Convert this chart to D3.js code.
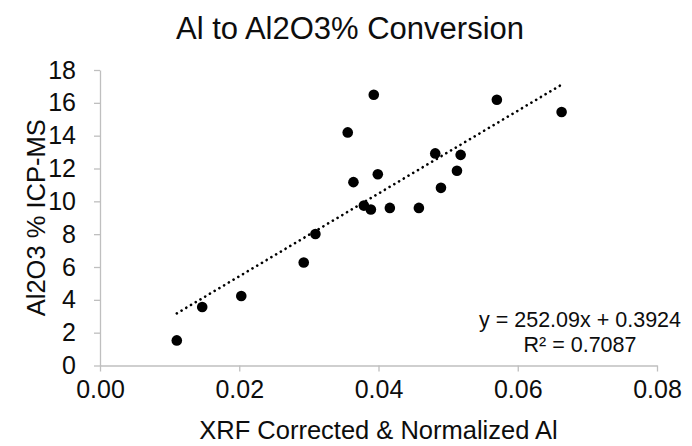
<!DOCTYPE html>
<html>
<head>
<meta charset="utf-8">
<script src="https://cdn.jsdelivr.net/npm/d3@7"></script>
<style>
  html, body { margin: 0; padding: 0; background: #fff; }
  svg { display: block; font-family: "Liberation Sans", Arial, sans-serif; }
</style>
</head>
<body>
<svg id="chart" width="692" height="446"></svg>
<script>
// XRF corrected & normalized Al vs. ICP-MS Al2O3 %
const xrfAl = [0.01103, 0.01468, 0.02029, 0.02926, 0.03094, 0.03558, 0.0364, 0.0379,
               0.0389, 0.03932, 0.0399, 0.04163, 0.0458, 0.04815, 0.04897, 0.05127,
               0.0518, 0.0570, 0.0663];
const icpAl2O3 = [1.53, 3.56, 4.23, 6.27, 8.01, 14.20, 11.17, 9.74,
                  9.50, 16.49, 11.65, 9.60, 9.60, 12.92, 10.82, 11.86,
                  12.83, 16.19, 15.44];

// Linear trendline reported with the chart
const slope = 252.09;
const intercept = 0.3924;
const rSquared = 0.7087;

const xTicks = [0, 0.02, 0.04, 0.06, 0.08];
const yTicks = [0, 2, 4, 6, 8, 10, 12, 14, 16, 18];

const titleText = "Al to Al2O3% Conversion";
const xTitle = "XRF Corrected & Normalized Al";
const yTitle = "Al2O3 % ICP-MS";

const svg = d3.select("#chart");
const W = 692, H = 446;
const plot = { left: 100, right: 657, top: 70, bottom: 365.5 };

const x = d3.scaleLinear().domain([0, 0.08]).range([plot.left, plot.right]);
const y = d3.scaleLinear().domain([0, 18]).range([plot.bottom, plot.top]);

const axisColor = "#bfbfbf";
const textColor = "#0d0d0d";

// X axis
const gx = svg.append("g")
  .attr("transform", `translate(0,${plot.bottom})`)
  .call(d3.axisBottom(x).tickValues(xTicks).tickFormat(d3.format(".2f"))
        .tickSizeInner(6).tickSizeOuter(0).tickPadding(9));
gx.select(".domain").attr("stroke", axisColor).attr("stroke-width", 1.3);
gx.selectAll(".tick line").attr("stroke", axisColor).attr("stroke-width", 1.3);
gx.selectAll(".tick text").attr("fill", textColor).attr("font-size", 25)
  .attr("font-family", "Liberation Sans, Arial, sans-serif");

// Y axis
const gy = svg.append("g")
  .attr("transform", `translate(${plot.left},0)`)
  .call(d3.axisLeft(y).tickValues(yTicks).tickFormat(d3.format("d"))
        .tickSizeInner(6).tickSizeOuter(0).tickPadding(18));
gy.select(".domain").attr("stroke", axisColor).attr("stroke-width", 1.3);
gy.selectAll(".tick line").attr("stroke", axisColor).attr("stroke-width", 1.3);
gy.selectAll(".tick text").attr("fill", textColor).attr("font-size", 25)
  .attr("font-family", "Liberation Sans, Arial, sans-serif");

// Trendline across the data's x range
const xExt = d3.extent(xrfAl);
const trend = xExt.map(v => [v, slope * v + intercept]);
svg.append("path")
  .attr("d", d3.line().x(d => x(d[0])).y(d => y(d[1]))(trend))
  .attr("fill", "none")
  .attr("stroke", "#000")
  .attr("stroke-width", 2.6)
  .attr("stroke-linecap", "round")
  .attr("stroke-dasharray", "0.1,5.4");

// Points
svg.append("g").selectAll("circle")
  .data(xrfAl.map((v, i) => [v, icpAl2O3[i]]))
  .join("circle")
  .attr("cx", d => x(d[0]))
  .attr("cy", d => y(d[1]))
  .attr("r", 5.3)
  .attr("fill", "#000");

// Chart title
svg.append("text")
  .attr("x", 350).attr("y", 39)
  .attr("text-anchor", "middle")
  .attr("font-size", 31)
  .attr("fill", textColor)
  .text(titleText);

// Axis titles
svg.append("text")
  .attr("x", (plot.left + plot.right) / 2).attr("y", 439)
  .attr("text-anchor", "middle")
  .attr("font-size", 25.5)
  .attr("fill", textColor)
  .text(xTitle);

svg.append("text")
  .attr("transform", `translate(45,${(plot.top + plot.bottom) / 2}) rotate(-90)`)
  .attr("text-anchor", "middle")
  .attr("font-size", 25.5)
  .attr("fill", textColor)
  .text(yTitle);

// Trendline equation and R²
const eq = svg.append("text")
  .attr("text-anchor", "middle")
  .attr("font-size", 21.5)
  .attr("fill", textColor);
eq.append("tspan").attr("x", 580).attr("y", 327)
  .text(`y = ${slope}x + ${intercept}`);
eq.append("tspan").attr("x", 580).attr("y", 352)
  .text(`R² = ${rSquared}`);
</script>
</body>
</html>
